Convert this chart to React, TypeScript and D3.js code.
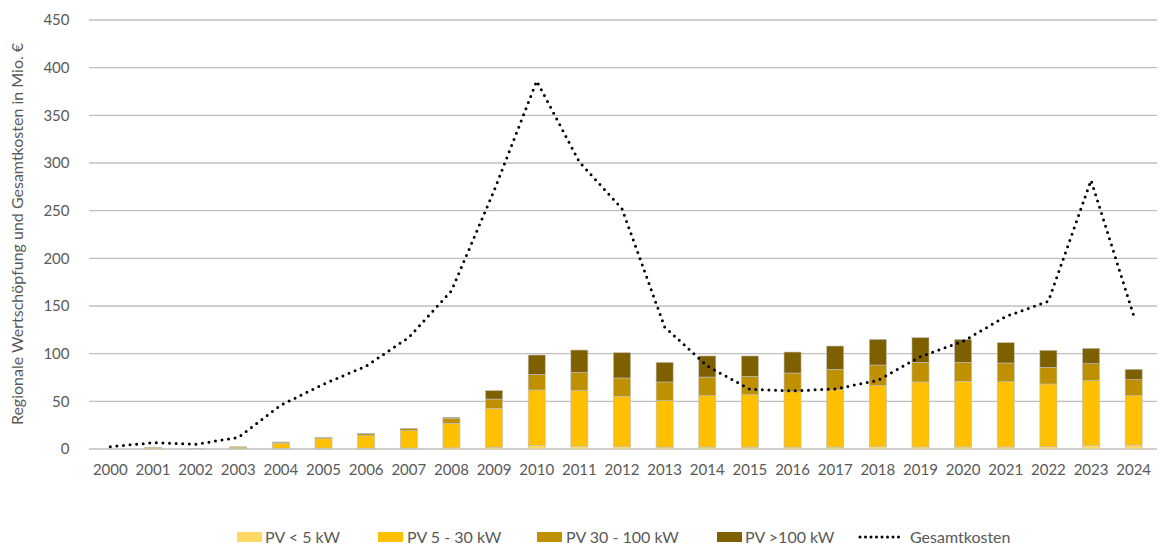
import React from "react";
import * as d3 from "d3";

const years = ["2000","2001","2002","2003","2004","2005","2006","2007","2008","2009","2010","2011","2012","2013","2014","2015","2016","2017","2018","2019","2020","2021","2022","2023","2024"];
const pvLt5 = [0,0.3,0.2,0.4,0.8,1,1,1,1.2,1.8,3.5,3,2.5,2,2,2,2,2,2.5,2.2,2.2,2.2,2.5,3.5,4];
const pv5to30 = [0,1.2,0.3,1.6,5.4,9.8,13.3,18.2,25.8,40.9,58.4,58.2,52.7,48.7,53.9,55,58,60,63.9,68.1,68.8,68.4,65.7,68.2,51.9];
const pv30to100 = [0,0.2,0.1,0.3,1.0,1.4,1.7,2.3,5.2,9.7,16.4,19.2,19.3,19.6,19.6,19.2,19.7,21.6,21.7,20.6,19.9,19.6,17.5,17.8,16.8];
const pvGt100 = [0,0,0,0,0.1,0.1,0.1,0.2,1.0,8.8,20.3,23.4,26.5,20.6,22.1,21.4,22,24.4,26.9,25.9,24.1,21.3,17.8,16.1,10.9];
const gesamtkosten = [2.4,6.6,5,12,46,68,87,117,166,271,386,301,252,128,87,62.6,61,63,72,97,113,139,155,282,140];
const yTicks = [0,50,100,150,200,250,300,350,400,450];
const seriesNames = ["PV < 5 kW","PV 5 - 30 kW","PV 30 - 100 kW","PV >100 kW"];
const seriesColors = ["#FFD966","#FFC000","#BF9000","#7F6000"];
const lineName = "Gesamtkosten";

const FONT = "Lato, 'Open Sans', sans-serif";
const TXT = "#595959";

export default function App() {
  const W = 1160, H = 544;
  const x = d3.scaleBand<string>().domain(years).range([89, 1155]).paddingInner(0.6).paddingOuter(0.3);
  const y = d3.scaleLinear().domain([0, 450]).range([449, 20]);
  const table = years.map((yr, i) => ({ yr, a: pvLt5[i], b: pv5to30[i], c: pv30to100[i], d: pvGt100[i] }));
  const stack = d3.stack<any>().keys(["a","b","c","d"])(table);
  const cx = (yr: string) => (x(yr) as number) + x.bandwidth() / 2;
  const line = d3.line<number>().x((_, i) => cx(years[i])).y(v => y(v)).curve(d3.curveLinear);
  const legendItems = [
    { i: 0, x: 237, tx: 265 },
    { i: 1, x: 378, tx: 407 },
    { i: 2, x: 537, tx: 566 },
    { i: 3, x: 717, tx: 745 },
  ];
  return (
    <svg width={W} height={H} style={{ position: "absolute", left: 0, top: 0, background: "#fff" }} fontFamily={FONT}>
      {yTicks.map(t => (
        <g key={t}>
          <line x1={89} x2={1157} y1={y(t)} y2={y(t)} stroke="#BFBFBF" strokeWidth={1.3} />
          <text x={69.5} y={y(t)} dy="0.36em" textAnchor="end" fontSize={15} fill={TXT}>{t}</text>
        </g>
      ))}
      {stack.map((s, si) => (
        <g key={si} fill={seriesColors[si]}>
          {s.map((d, i) => {
            const h = y(d[0]) - y(d[1]);
            if (h <= 0) return null;
            return <rect key={i} x={x(years[i])} y={y(d[1])} width={x.bandwidth()} height={h} stroke="#BFBFBF" strokeWidth={0.6} />;
          })}
        </g>
      ))}
      <path d={line(gesamtkosten) || ""} fill="none" stroke="#000" strokeWidth={3} strokeDasharray="0 6.6" strokeLinecap="round" strokeLinejoin="round" />
      {years.map(yr => (
        <text key={yr} x={cx(yr)} y={475} textAnchor="middle" fontSize={15} fill={TXT}>{yr}</text>
      ))}
      <text transform={`translate(23,234) rotate(-90)`} textAnchor="middle" fontSize={16} fill={TXT}>Regionale Wertschöpfung und Gesamtkosten in Mio. €</text>
      {legendItems.map(l => (
        <g key={l.i}>
          <rect x={l.x} y={532} width={25} height={10} fill={seriesColors[l.i]} />
          <text x={l.tx} y={542.5} fontSize={16} fill={TXT}>{seriesNames[l.i]}</text>
        </g>
      ))}
      <line x1={860} x2={903} y1={537} y2={537} stroke="#000" strokeWidth={3} strokeDasharray="0 5.5" strokeLinecap="round" />
      <text x={910} y={542.5} fontSize={16} fill={TXT}>{lineName}</text>
    </svg>
  );
}
